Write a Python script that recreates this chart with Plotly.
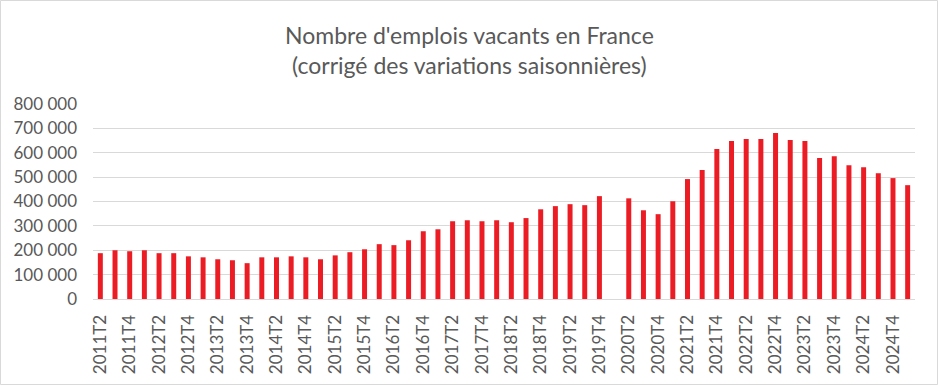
import plotly.graph_objects as go

quarters = []
for y in range(2011, 2026):
    for q in range(1, 5):
        lab = f"{y}T{q}"
        if (y == 2011 and q == 1) or (y == 2025 and q > 1):
            continue
        quarters.append(lab)

values = [
    188000, 200000, 196000, 200000, 188000, 188000, 175000, 171000, 163000, 159000,
    147000, 171000, 171000, 175000, 171000, 163000, 179000, 192000, 204000, 225000,
    221000, 241000, 278000, 286000, 319000, 323000, 319000, 323000, 315000, 332000,
    368000, 381000, 389000, 385000, 422000, None, 413000, 364000, 348000, 401000,
    492000, 529000, 615000, 648000, 656000, 656000, 681000, 652000, 648000, 578000,
    586000, 549000, 541000, 516000, 496000, 467000,
]

title_text = "Nombre d'emplois vacants en France<br>(corrigé des variations saisonnières)"
tick_labels = quarters[::2]
y_ticks = [0, 100000, 200000, 300000, 400000, 500000, 600000, 700000, 800000]

W, H = 939, 386
ml, mr, mt, mb = 93, 24, 104, 87
pw, ph = W - ml - mr, H - mt - mb

fig = go.Figure(go.Bar(x=quarters, y=values, marker_color="#ec1c24",
                       marker_line_width=0))

fig.update_layout(
    width=W, height=H,
    margin=dict(l=ml, r=mr, t=mt, b=mb, autoexpand=False),
    paper_bgcolor="white", plot_bgcolor="white",
    bargap=0.66,
    separators=", ",
    font=dict(family="Lato, Open Sans, sans-serif", color="#595959"),
    showlegend=False,
)
fig.add_annotation(text=title_text, xref="paper", yref="paper",
                   x=(W / 2 - ml) / pw, y=1 + (mt - 50) / ph,
                   xanchor="center", yanchor="middle", showarrow=False,
                   align="center", font=dict(size=23, color="#595959"))
fig.update_xaxes(type="category", categoryorder="array", categoryarray=quarters,
                 tickmode="array", tickvals=tick_labels, ticktext=tick_labels,
                 tickangle=-90, tickfont=dict(size=17, color="#595959"),
                 ticklabelstandoff=8,
                 showline=True, linecolor="#d9d9d9", linewidth=1,
                 showgrid=False, ticks="", range=[-0.5, len(quarters) - 0.5],
                 automargin=False)
fig.update_yaxes(range=[0, 800000], tickmode="array", tickvals=y_ticks,
                 tickformat=",.0f", tickfont=dict(size=17, color="#595959"),
                 ticklabelstandoff=15,
                 showgrid=True, gridcolor="#d9d9d9", gridwidth=1,
                 zeroline=False, showline=False, ticks="", ticklen=0,
                 automargin=False)
fig.add_shape(type="rect", xref="paper", yref="paper",
              x0=-(ml - 0.5) / pw, x1=1 + (mr - 1.5) / pw,
              y0=-(mb - 1.5) / ph, y1=1 + (mt - 0.5) / ph,
              line=dict(color="#d9d9d9", width=1), layer="above")

fig.write_html("out.html", config={"displayModeBar": False},
               post_script="document.body.style.margin='0';document.body.style.overflow='hidden';")
